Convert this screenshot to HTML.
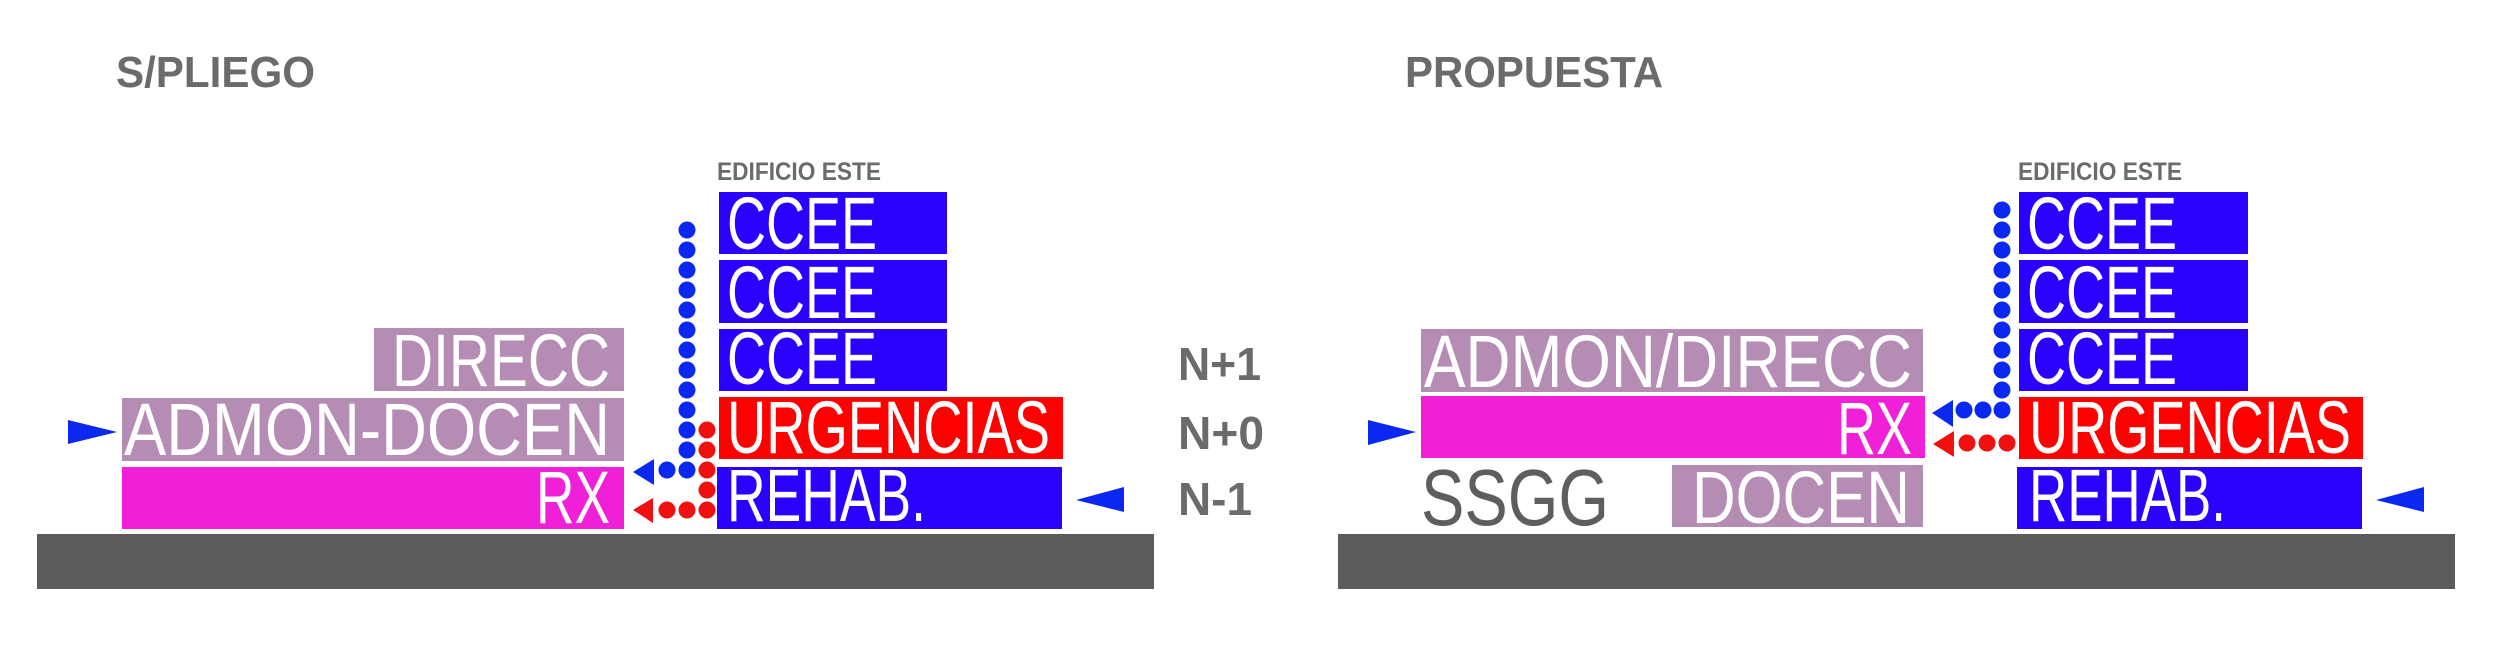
<!DOCTYPE html>
<html><head><meta charset="utf-8"><style>html,body{margin:0;padding:0;background:#fff}svg{display:block}</style></head><body>
<svg width="2500" height="659" viewBox="0 0 2500 659" xmlns="http://www.w3.org/2000/svg" font-family="Liberation Sans, sans-serif">
<rect x="37" y="534" width="1117" height="55" fill="#5b5b5b"/>
<rect x="1338" y="534" width="1117" height="55" fill="#5b5b5b"/>

<g font-weight="bold" fill="#6b6b6b">
<text x="116" y="87" font-size="44" textLength="199" lengthAdjust="spacingAndGlyphs">S/PLIEGO</text>
<text x="1405" y="87" font-size="44" textLength="258" lengthAdjust="spacingAndGlyphs">PROPUESTA</text>
<text x="717" y="180" font-size="25" textLength="164" lengthAdjust="spacingAndGlyphs">EDIFICIO ESTE</text>
<text x="2018" y="180" font-size="25" textLength="164" lengthAdjust="spacingAndGlyphs">EDIFICIO ESTE</text>
<text x="1178" y="380" font-size="46" textLength="83" lengthAdjust="spacingAndGlyphs">N+1</text>
<text x="1178" y="449" font-size="46" textLength="86" lengthAdjust="spacingAndGlyphs">N+0</text>
<text x="1178" y="515" font-size="46" textLength="74" lengthAdjust="spacingAndGlyphs">N-1</text>
</g>

<rect x="719" y="192" width="228" height="62" fill="#2a00ff"/>
<rect x="719" y="260" width="228" height="63" fill="#2a00ff"/>
<rect x="719" y="329" width="228" height="62" fill="#2a00ff"/>
<rect x="719" y="397" width="344" height="62" fill="#ff0000"/>
<rect x="717" y="467" width="345" height="62" fill="#2a00ff"/>
<rect x="374" y="328" width="250" height="63" fill="#b48cb4"/>
<rect x="122" y="398" width="502" height="63" fill="#b48cb4"/>
<rect x="122" y="467" width="502" height="62" fill="#f020d8"/>

<rect x="2019" y="192" width="229" height="62" fill="#2a00ff"/>
<rect x="2019" y="260" width="229" height="63" fill="#2a00ff"/>
<rect x="2019" y="329" width="229" height="62" fill="#2a00ff"/>
<rect x="2019" y="397" width="344" height="62" fill="#ff0000"/>
<rect x="2017" y="467" width="345" height="62" fill="#2a00ff"/>
<rect x="1421" y="329" width="502" height="63" fill="#b48cb4"/>
<rect x="1421" y="396" width="504" height="62" fill="#f020d8"/>
<rect x="1672" y="465" width="251" height="62" fill="#b48cb4"/>

<g fill="#fff" font-size="74">
<text x="727" y="249" textLength="150" lengthAdjust="spacingAndGlyphs">CCEE</text>
<text x="727" y="318" textLength="150" lengthAdjust="spacingAndGlyphs">CCEE</text>
<text x="727" y="384" textLength="150" lengthAdjust="spacingAndGlyphs">CCEE</text>
<text x="727" y="453" textLength="323" lengthAdjust="spacingAndGlyphs">URGENCIAS</text>
<text x="727" y="521" textLength="199" lengthAdjust="spacingAndGlyphs">REHAB.</text>
<text x="392" y="386" textLength="218" lengthAdjust="spacingAndGlyphs">DIRECC</text>
<text x="124" y="455" textLength="486" lengthAdjust="spacingAndGlyphs">ADMON-DOCEN</text>
<text x="536" y="523" textLength="74" lengthAdjust="spacingAndGlyphs">RX</text>

<text x="2027" y="249" textLength="150" lengthAdjust="spacingAndGlyphs">CCEE</text>
<text x="2027" y="318" textLength="150" lengthAdjust="spacingAndGlyphs">CCEE</text>
<text x="2027" y="384" textLength="150" lengthAdjust="spacingAndGlyphs">CCEE</text>
<text x="2029" y="453" textLength="322" lengthAdjust="spacingAndGlyphs">URGENCIAS</text>
<text x="2029" y="521" textLength="197" lengthAdjust="spacingAndGlyphs">REHAB.</text>
<text x="1424" y="387" textLength="488" lengthAdjust="spacingAndGlyphs">ADMON/DIRECC</text>
<text x="1837" y="454" textLength="75" lengthAdjust="spacingAndGlyphs">RX</text>
<text x="1692" y="523" textLength="218" lengthAdjust="spacingAndGlyphs">DOCEN</text>
</g>
<text x="1421" y="525" font-size="80" fill="#5e5e5e" textLength="188" lengthAdjust="spacingAndGlyphs">SSGG</text>

<g fill="#0a28f0">
<circle cx="687" cy="230" r="8.5"/><circle cx="687" cy="250" r="8.5"/><circle cx="687" cy="270" r="8.5"/><circle cx="687" cy="290" r="8.5"/><circle cx="687" cy="310" r="8.5"/><circle cx="687" cy="330" r="8.5"/><circle cx="687" cy="350" r="8.5"/><circle cx="687" cy="370" r="8.5"/><circle cx="687" cy="390" r="8.5"/><circle cx="687" cy="410" r="8.5"/><circle cx="687" cy="430" r="8.5"/><circle cx="687" cy="450" r="8.5"/><circle cx="687" cy="470" r="8.5"/>
<circle cx="667" cy="470" r="8.5"/>
<polygon points="633,472 654,459 654,485"/>
<polygon points="117,432 68,420 68,444"/>
<polygon points="1076,500 1124,487 1124,512"/>
</g>
<g fill="#f01010">
<circle cx="707" cy="430" r="8.5"/><circle cx="707" cy="450" r="8.5"/><circle cx="707" cy="470" r="8.5"/><circle cx="707" cy="490" r="8.5"/><circle cx="707" cy="510" r="8.5"/>
<circle cx="687" cy="510" r="8.5"/><circle cx="667" cy="510" r="8.5"/>
<polygon points="633,510 653,498 653,523"/>
</g>

<g fill="#0a28f0">
<circle cx="2002" cy="210" r="8.5"/><circle cx="2002" cy="230" r="8.5"/><circle cx="2002" cy="250" r="8.5"/><circle cx="2002" cy="270" r="8.5"/><circle cx="2002" cy="290" r="8.5"/><circle cx="2002" cy="310" r="8.5"/><circle cx="2002" cy="330" r="8.5"/><circle cx="2002" cy="350" r="8.5"/><circle cx="2002" cy="370" r="8.5"/><circle cx="2002" cy="390" r="8.5"/><circle cx="2002" cy="410" r="8.5"/>
<circle cx="1983" cy="410" r="8.5"/><circle cx="1964" cy="410" r="8.5"/>
<polygon points="1932,413 1953,400 1953,427"/>
<polygon points="1416,432 1368,420 1368,445"/>
<polygon points="2376,500 2424,487 2424,512"/>
</g>
<g fill="#f01010">
<circle cx="1967" cy="443" r="8.5"/><circle cx="1987" cy="443" r="8.5"/><circle cx="2007" cy="443" r="8.5"/>
<polygon points="1933,444 1954,431 1954,457"/>
</g>
</svg>
</body></html>
